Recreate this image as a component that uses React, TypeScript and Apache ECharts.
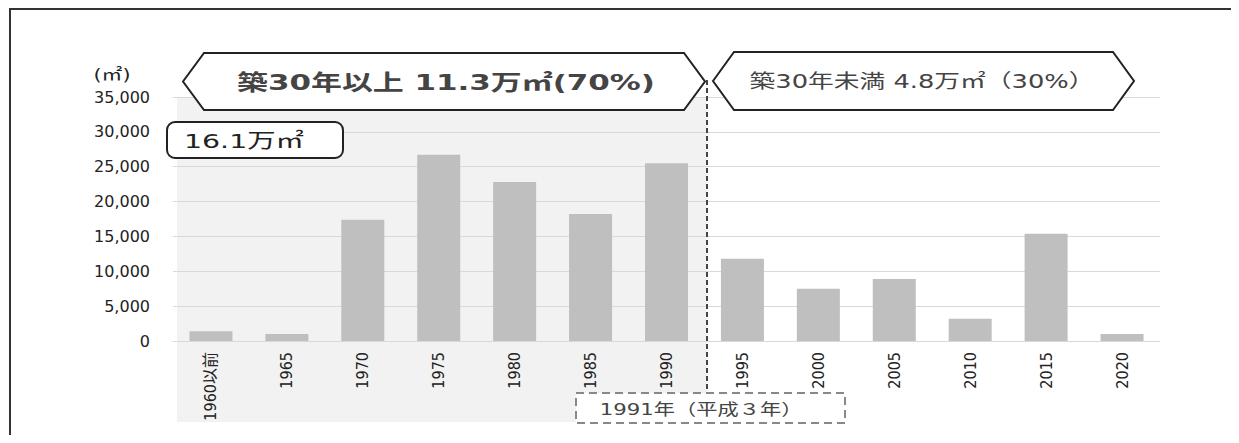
import React, { useEffect, useRef } from "react";
import * as echarts from "echarts";

const categories = ["1960以前", "1965", "1970", "1975", "1980", "1985", "1990", "1995", "2000", "2005", "2010", "2015", "2020"];
const areaValues = [1400, 1000, 17400, 26700, 22800, 18200, 25500, 11800, 7500, 8900, 3200, 15400, 1000];
const yTicks = { min: 0, max: 35000, interval: 5000 };
const titleText = "【築年別整備状況】";
const oldLabel = "築30年以上 11.3万㎡(70%)";
const newLabel = "築30年未満 4.8万㎡（30%）";
const totalLabel = "16.1万㎡";
const markerLabel = "1991年（平成３年）";
const unitLabel = "(㎡)";

const JP = '"DejaVu Sans", "Noto Sans CJK JP", sans-serif';

function fitScale(text: string, fontSize: number, target: number, fontWeight: string = "normal") {
  const t = new echarts.graphic.Text({ style: { text, fontSize, fontFamily: JP, fontWeight } as any });
  const w = t.getBoundingRect().width || target;
  return target / w;
}

export default function App() {
  const ref = useRef<HTMLDivElement>(null);
  useEffect(() => {
    if (!ref.current) return;
    const chart = echarts.init(ref.current, null, { renderer: "svg" });
    const hex = (x1: number, x2: number, y1: number, y2: number, d: number) => {
      const ym = (y1 + y2) / 2;
      return [
        [x1, ym],
        [x1 + d, y1],
        [x2 - d, y1],
        [x2, ym],
        [x2 - d, y2],
        [x1 + d, y2],
      ];
    };
    const label = (
      text: string,
      x: number,
      y: number,
      fontSize: number,
      target: number,
      align: string,
      fill: string,
      fontWeight: string = "normal",
      vAlign: string = "middle"
    ) => ({
      type: "text",
      z: 61,
      x,
      y,
      scaleX: fitScale(text, fontSize, target, fontWeight),
      style: {
        text,
        fontSize,
        fontWeight,
        fontFamily: JP,
        fill,
        textAlign: align,
        textVerticalAlign: vAlign,
      },
    });
    chart.setOption({
      animation: false,
      backgroundColor: "#ffffff",
      grid: { left: 173, right: 79, top: 97, bottom: 102, containLabel: false },
      xAxis: {
        type: "category",
        data: categories,
        axisLine: { show: true, lineStyle: { color: "#d9d9d9", width: 1 } },
        axisTick: { show: false },
        axisLabel: {
          rotate: 90,
          margin: 11,
          fontSize: 16,
          color: "#222",
          fontFamily: '"DejaVu Sans Condensed", "Liberation Sans Narrow", "Noto Sans CJK JP", sans-serif',
          interval: 0,
        },
      },
      yAxis: {
        type: "value",
        min: yTicks.min,
        max: yTicks.max,
        interval: yTicks.interval,
        axisLine: { show: false },
        axisTick: { show: false },
        splitLine: { lineStyle: { color: "#d9d9d9", width: 1 } },
        axisLabel: {
          margin: 23,
          fontSize: 16,
          color: "#222",
          fontFamily: JP,
          formatter: (v: number) => v.toLocaleString("en-US"),
        },
      },
      series: [
        {
          type: "bar",
          data: areaValues,
          barWidth: 43,
          itemStyle: { color: "#bfbfbf" },
          z: 3,
        },
      ],
      graphic: [
        {
          type: "rect",
          z: -10,
          silent: true,
          shape: { x: 177, y: 97, width: 530, height: 325 },
          style: { fill: "#f2f2f2" },
        },
        {
          type: "rect",
          z: 100,
          shape: { x: 10, y: 9, width: 1223, height: 432 },
          style: { fill: "none", stroke: "#333", lineWidth: 2 },
        },
        {
          type: "text",
          x: 27,
          y: 8,
          z: 100,
          scaleX: fitScale(titleText, 24, 230, "bold"),
          style: {
            text: titleText,
            fontSize: 24,
            fontWeight: "bold",
            fontFamily: JP,
            fill: "#222",
            textVerticalAlign: "bottom",
          },
        },
        label(unitLabel, 112, 74, 16, 37, "center", "#222"),
        {
          type: "line",
          z: 50,
          shape: { x1: 707, y1: 80, x2: 707, y2: 393 },
          style: { stroke: "#444", lineWidth: 2, lineDash: [5, 3] },
        },
        {
          type: "polygon",
          z: 60,
          shape: { points: hex(183, 705, 53, 110, 21) },
          style: { fill: "#ffffff", stroke: "#222", lineWidth: 2 },
        },
        label(oldLabel, 446, 82, 22, 418, "center", "#444", "bold"),
        {
          type: "polygon",
          z: 60,
          shape: { points: hex(713, 1134, 52, 110, 21) },
          style: { fill: "#ffffff", stroke: "#222", lineWidth: 2 },
        },
        label(newLabel, 922, 81, 19, 345, "center", "#444"),
        {
          type: "rect",
          z: 60,
          shape: { x: 167, y: 122, width: 176, height: 36, r: 8 },
          style: { fill: "#ffffff", stroke: "#222", lineWidth: 2 },
        },
        label(totalLabel, 184, 141, 20, 120, "left", "#222"),
        {
          type: "rect",
          z: 60,
          shape: { x: 576, y: 393, width: 269, height: 30 },
          style: { fill: "#ffffff", stroke: "#888", lineWidth: 2, lineDash: [8, 5] },
        },
        label(markerLabel, 701, 409, 16, 203, "center", "#444"),
      ],
    });
    return () => chart.dispose();
  }, []);
  return (
    <div style={{ margin: -8 }}>
      <div ref={ref} style={{ width: 1239, height: 443 }} />
    </div>
  );
}
